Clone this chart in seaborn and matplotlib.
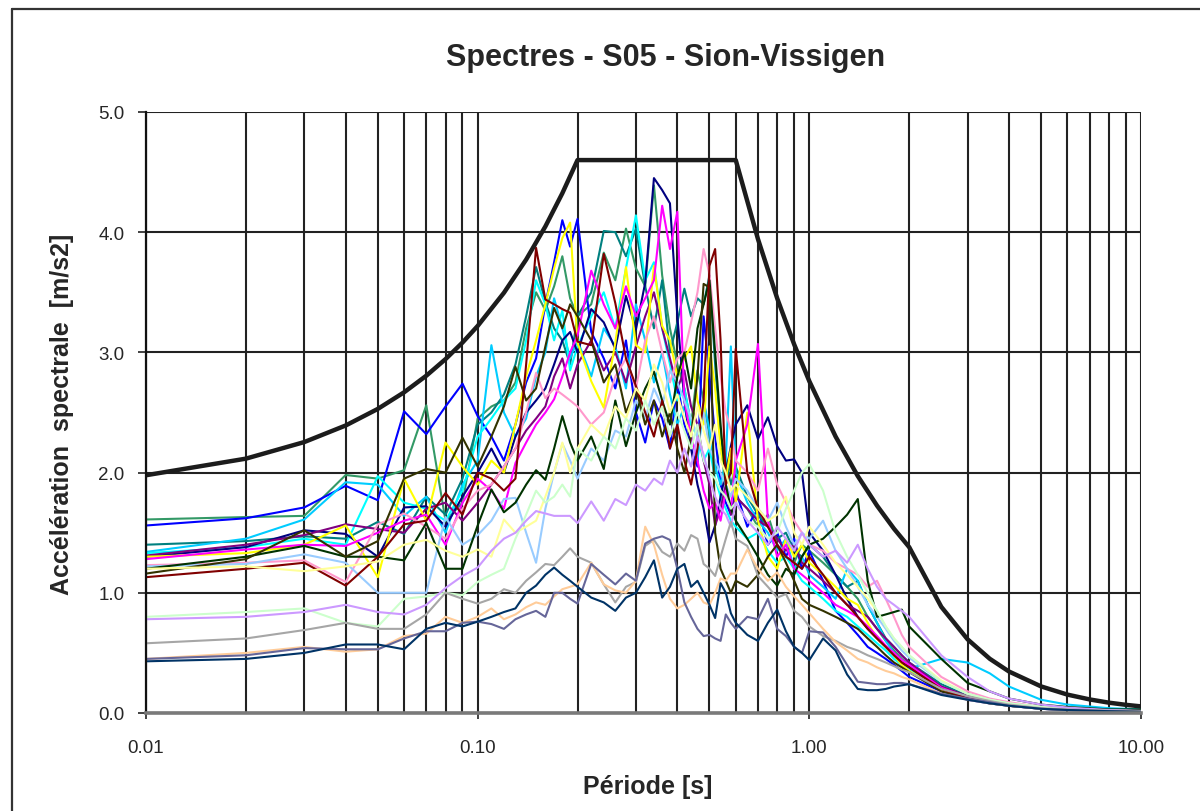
import pandas as pd
import seaborn as sns
import matplotlib
matplotlib.use("Agg")
import matplotlib.pyplot as plt
from matplotlib.lines import Line2D
from matplotlib.ticker import LogLocator, NullFormatter

# periods [s] at which the recorded spectra are read
periods = [0.01, 0.02, 0.03, 0.04, 0.05, 0.06, 0.07, 0.08, 0.09,
           0.10, 0.11, 0.12, 0.13, 0.14, 0.15, 0.16, 0.17, 0.18, 0.19, 0.20,
           0.22, 0.24, 0.26, 0.28, 0.30, 0.32, 0.34, 0.36, 0.38, 0.40,
           0.42, 0.44, 0.46, 0.48, 0.50, 0.52, 0.54, 0.56, 0.58, 0.60,
           0.65, 0.70, 0.75, 0.80, 0.85, 0.90, 0.95, 1.00,
           1.1, 1.2, 1.3, 1.4, 1.5, 1.6, 1.7, 1.8, 1.9, 2.0,
           2.5, 3.0, 3.5, 4.0, 5.0, 6.0, 8.0, 10.0]

sea_green = [1.61, 1.63, 1.64, 1.98, 1.95, 2.02, 2.56, 1.60, 1.75,
             2.45, 2.55, 2.60, 2.75, 3.20, 3.50, 3.35, 3.55, 3.80, 3.45, 3.30,
             3.40, 3.83, 3.60, 4.03, 3.70, 3.55, 4.39, 3.64, 3.20, 2.90,
             2.70, 2.40, 2.85, 2.60, 2.30, 2.00, 2.20, 1.90, 2.10, 1.80,
             1.70, 1.55, 1.65, 1.40, 1.30, 1.25, 1.40, 1.35,
             1.25, 1.15, 1.05, 0.95, 0.80, 0.70, 0.60, 0.52, 0.45, 0.40,
             0.22, 0.14, 0.10, 0.07, 0.04, 0.03, 0.02, 0.015]
blue = [1.56, 1.62, 1.71, 1.89, 1.77, 2.51, 2.32, 2.55, 2.74,
        2.47, 2.30, 2.10, 2.40, 2.75, 2.95, 3.40, 3.75, 4.10, 3.88, 4.11,
        3.17, 2.95, 2.70, 3.10, 2.50, 2.25, 2.60, 2.45, 2.20, 2.75,
        2.40, 2.20, 2.05, 3.30, 2.80, 2.30, 1.90, 1.75, 1.65, 1.85,
        1.55, 1.70, 1.40, 1.50, 1.30, 1.45, 1.20, 1.35,
        1.10, 0.85, 0.75, 0.65, 0.55, 0.50, 0.45, 0.40, 0.35, 0.30,
        0.18, 0.11, 0.08, 0.06, 0.035, 0.025, 0.015, 0.01]
teal = [1.40, 1.43, 1.47, 1.45, 1.59, 1.49, 1.80, 1.65, 1.95,
        2.40, 2.50, 2.65, 2.90, 3.30, 3.71, 3.42, 3.20, 3.10, 2.90, 3.30,
        3.50, 4.01, 4.00, 3.80, 4.03, 3.55, 3.20, 3.60, 3.00, 3.25,
        3.53, 3.30, 3.45, 3.40, 3.64, 2.90, 2.30, 2.10, 1.90, 2.05,
        1.80, 1.65, 1.55, 1.45, 1.50, 1.35, 1.30, 1.40,
        1.30, 1.15, 1.05, 1.10, 0.90, 0.75, 0.62, 0.55, 0.48, 0.42,
        0.24, 0.15, 0.11, 0.08, 0.05, 0.035, 0.02, 0.015]
sky_blue = [1.34, 1.45, 1.61, 1.92, 1.90, 1.64, 1.80, 1.50, 1.90,
            2.10, 3.06, 2.50, 2.30, 2.45, 2.80, 3.00, 3.45, 3.20, 2.95, 3.10,
            2.80, 3.20, 3.05, 2.70, 3.40, 3.10, 2.75, 3.00, 2.65, 2.40,
            2.55, 2.30, 2.10, 2.60, 2.35, 2.05, 1.90, 2.10, 3.05, 2.00,
            1.75, 1.60, 1.50, 1.35, 1.45, 1.20, 1.30, 1.15,
            1.05, 0.95, 1.20, 1.10, 0.90, 0.75, 0.60, 0.50, 0.42, 0.37,
            0.45, 0.42, 0.33, 0.22, 0.11, 0.07, 0.04, 0.03]
cyan = [1.33, 1.38, 1.45, 1.40, 1.97, 1.75, 1.70, 1.60, 1.85,
        2.30, 2.45, 2.60, 2.70, 3.10, 3.60, 3.40, 3.10, 3.35, 2.85, 3.05,
        3.30, 3.50, 3.20, 3.70, 4.14, 3.60, 3.75, 3.20, 2.90, 2.60,
        2.70, 2.40, 2.30, 2.10, 2.20, 1.95, 1.80, 1.70, 1.60, 1.55,
        1.45, 1.50, 1.35, 1.25, 1.30, 1.20, 1.10, 1.05,
        0.95, 0.85, 0.80, 0.72, 0.65, 0.58, 0.52, 0.45, 0.40, 0.36,
        0.20, 0.13, 0.09, 0.07, 0.04, 0.03, 0.02, 0.015]
navy = [1.30, 1.38, 1.52, 1.49, 1.30, 1.71, 1.72, 1.55, 1.80,
        2.00, 2.20, 2.00, 2.30, 2.50, 2.60, 2.70, 2.90, 3.10, 3.17, 3.00,
        3.36, 3.25, 3.03, 3.47, 3.19, 3.58, 4.45, 4.35, 4.24, 3.30,
        2.60, 2.20, 1.90, 1.70, 1.42, 1.56, 1.80, 2.00, 2.22, 2.40,
        2.56, 2.28, 2.46, 2.22, 2.10, 2.11, 2.00, 1.50,
        1.35, 1.15, 0.95, 0.80, 0.70, 0.62, 0.55, 0.48, 0.42, 0.38,
        0.20, 0.13, 0.09, 0.07, 0.04, 0.03, 0.02, 0.012]
purple = [1.31, 1.40, 1.48, 1.57, 1.53, 1.50, 1.70, 1.75, 1.60,
          1.75, 1.90, 2.05, 2.20, 2.35, 2.45, 2.55, 2.80, 2.95, 2.70, 2.90,
          3.10, 2.85, 3.00, 2.75, 3.05, 3.30, 3.50, 3.20, 2.95, 2.70,
          2.85, 2.55, 2.40, 2.10, 1.90, 1.56, 1.70, 1.90, 1.65, 1.80,
          1.70, 1.60, 1.55, 1.45, 1.35, 1.40, 1.25, 1.20,
          1.10, 1.00, 0.90, 0.85, 0.80, 0.70, 0.62, 0.55, 0.48, 0.42,
          0.22, 0.14, 0.10, 0.07, 0.04, 0.03, 0.02, 0.015]
yellow = [1.30, 1.33, 1.40, 1.56, 1.13, 1.95, 1.60, 2.25, 2.05,
          1.90, 2.10, 2.00, 2.40, 2.80, 3.10, 3.40, 3.70, 3.95, 4.08, 3.08,
          2.76, 2.54, 3.08, 3.71, 3.06, 3.00, 3.72, 3.22, 3.10, 2.80,
          2.95, 3.05, 2.60, 2.40, 3.05, 2.70, 2.20, 1.95, 2.20, 1.75,
          2.50, 1.60, 1.30, 1.20, 1.45, 1.30, 1.40, 1.25,
          1.15, 1.05, 0.95, 0.90, 0.75, 0.62, 0.55, 0.48, 0.40, 0.35,
          0.19, 0.12, 0.09, 0.06, 0.04, 0.03, 0.02, 0.012]
magenta = [1.28, 1.36, 1.40, 1.39, 1.50, 1.60, 1.65, 1.40, 1.75,
           1.95, 1.85, 1.70, 2.08, 2.25, 2.40, 2.50, 2.61, 2.80, 3.00, 3.14,
           3.68, 3.40, 3.20, 3.55, 3.30, 3.45, 3.60, 4.22, 3.86, 4.17,
           2.60, 2.30, 2.10, 1.85, 1.70, 1.75, 1.60, 1.85, 1.70, 2.10,
           2.40, 3.07, 1.60, 1.30, 1.40, 1.20, 1.15, 1.10,
           1.00, 0.90, 0.85, 0.80, 0.72, 0.64, 0.56, 0.50, 0.44, 0.40,
           0.21, 0.13, 0.09, 0.07, 0.04, 0.03, 0.02, 0.015]
pink = [1.23, 1.25, 1.27, 1.09, 1.57, 1.66, 1.55, 1.45, 1.70,
        1.85, 1.90, 2.05, 2.20, 2.50, 2.83, 2.62, 2.70, 2.65, 2.60, 2.55,
        2.40, 2.50, 2.80, 2.95, 2.70, 3.10, 3.30, 3.00, 2.75, 2.95,
        3.00, 3.25, 3.50, 3.86, 3.65, 3.20, 2.80, 2.50, 2.35, 2.10,
        2.00, 1.85, 2.20, 1.90, 1.75, 1.60, 1.50, 1.40,
        1.35, 1.25, 1.20, 1.15, 1.05, 1.10, 0.95, 0.80, 0.65, 0.55,
        0.30, 0.18, 0.12, 0.09, 0.05, 0.035, 0.02, 0.015]
light_blue = [1.22, 1.24, 1.32, 1.25, 1.00, 1.00, 1.00, 1.63, 1.40,
              1.48, 1.60, 1.78, 1.79, 1.50, 1.25, 1.70, 2.00, 2.24, 2.10, 1.95,
              2.20, 2.10, 2.35, 2.30, 2.60, 2.45, 2.70, 2.55, 2.85, 2.75,
              2.60, 2.45, 2.30, 2.50, 2.20, 2.10, 2.00, 1.90, 1.80, 1.95,
              1.85, 1.70, 1.60, 1.75, 1.55, 1.40, 1.50, 1.45,
              1.60, 1.35, 1.20, 1.05, 0.90, 0.80, 0.70, 0.60, 0.52, 0.46,
              0.26, 0.16, 0.11, 0.08, 0.05, 0.035, 0.02, 0.015]
dark_green = [1.20, 1.30, 1.39, 1.30, 1.30, 1.27, 1.58, 1.20, 1.20,
              1.56, 1.86, 1.67, 1.75, 1.90, 2.02, 1.94, 2.20, 2.47, 2.25, 2.10,
              2.30, 2.03, 2.60, 2.22, 2.50, 2.70, 2.84, 2.60, 2.40, 2.80,
              3.00, 2.70, 3.20, 3.40, 3.60, 3.00, 2.40, 1.90, 1.70, 1.60,
              1.45, 1.30, 1.15, 1.06, 1.20, 1.15, 1.30, 1.40,
              1.45, 1.55, 1.65, 1.78, 1.10, 0.80, 0.82, 0.84, 0.86, 0.72,
              0.45, 0.25, 0.18, 0.12, 0.07, 0.05, 0.03, 0.03]
olive = [1.16, 1.28, 1.52, 1.30, 1.43, 1.95, 2.03, 2.00, 2.29,
         2.05, 2.30, 2.55, 2.88, 2.60, 2.70, 3.05, 3.37, 3.20, 3.40, 3.30,
         3.10, 2.75, 2.90, 2.50, 2.70, 2.40, 2.60, 2.30, 2.50, 2.20,
         2.00, 2.30, 2.80, 3.57, 3.54, 1.50, 1.20, 1.10, 1.00, 1.10,
         1.05, 1.15, 1.30, 1.40, 1.25, 1.10, 0.95, 0.90,
         0.85, 0.80, 0.75, 0.70, 0.62, 0.55, 0.48, 0.42, 0.38, 0.34,
         0.18, 0.12, 0.08, 0.06, 0.035, 0.025, 0.015, 0.01]
dark_red = [1.13, 1.20, 1.25, 1.06, 1.30, 1.57, 1.60, 1.83, 1.65,
            2.00, 1.95, 1.85, 1.95, 2.90, 3.87, 3.44, 3.40, 3.36, 3.33, 3.09,
            3.06, 3.82, 3.41, 2.95, 2.72, 2.50, 2.30, 2.60, 2.20, 2.40,
            2.10, 1.90, 2.20, 2.60, 3.72, 3.86, 3.10, 1.90, 2.00, 3.03,
            2.00, 1.70, 1.55, 1.40, 1.30, 1.25, 1.20, 1.30,
            1.15, 1.00, 0.90, 0.80, 0.70, 0.62, 0.55, 0.48, 0.42, 0.38,
            0.20, 0.12, 0.09, 0.06, 0.04, 0.03, 0.02, 0.012]
light_yellow = [1.20, 1.22, 1.18, 1.22, 1.26, 1.40, 1.44, 1.35, 1.30,
                1.36, 1.30, 1.61, 1.50, 1.55, 1.60, 1.80, 2.00, 2.25, 2.00, 2.20,
                2.40, 2.30, 2.55, 2.45, 2.70, 2.60, 2.90, 2.75, 2.50, 2.65,
                2.45, 2.30, 2.55, 2.35, 2.20, 2.40, 2.10, 2.00, 1.85, 1.90,
                1.80, 1.70, 1.60, 1.65, 1.80, 1.50, 1.40, 1.55,
                1.40, 1.25, 1.15, 1.05, 0.95, 0.85, 0.72, 0.62, 0.55, 0.48,
                0.27, 0.16, 0.11, 0.08, 0.05, 0.035, 0.02, 0.015]
light_green = [0.80, 0.84, 0.87, 0.75, 0.72, 0.95, 0.97, 1.00, 0.98,
               1.09, 1.15, 1.20, 1.45, 1.65, 1.85, 1.75, 1.80, 1.90, 1.80, 2.20,
               2.10, 2.30, 2.20, 2.45, 2.35, 2.60, 2.40, 2.55, 2.30, 2.50,
               2.35, 2.20, 2.40, 2.10, 2.00, 1.95, 1.85, 1.80, 1.70, 1.75,
               1.60, 1.55, 1.45, 1.50, 1.70, 1.85, 2.00, 2.07,
               1.85, 1.50, 1.30, 1.15, 1.00, 0.85, 0.72, 0.62, 0.55, 0.48,
               0.26, 0.16, 0.11, 0.08, 0.05, 0.035, 0.02, 0.015]
lavender = [0.78, 0.80, 0.84, 0.90, 0.84, 0.82, 0.90, 1.04, 1.14,
            1.21, 1.35, 1.45, 1.50, 1.60, 1.68, 1.66, 1.64, 1.64, 1.64, 1.58,
            1.76, 1.60, 1.78, 1.73, 1.90, 1.85, 1.95, 1.90, 2.10, 2.00,
            2.20, 2.05, 2.30, 2.15, 1.95, 1.80, 1.70, 1.65, 1.55, 1.75,
            1.60, 1.50, 1.40, 1.55, 1.45, 1.35, 1.50, 1.40,
            1.30, 1.35, 1.25, 1.40, 1.20, 1.05, 0.95, 0.90, 0.85, 0.80,
            0.48, 0.30, 0.18, 0.12, 0.07, 0.045, 0.025, 0.018]
grey = [0.58, 0.62, 0.69, 0.75, 0.70, 0.70, 0.82, 1.00, 0.95,
        0.91, 0.95, 1.03, 1.00, 1.10, 1.17, 1.24, 1.23, 1.30, 1.37, 1.30,
        1.25, 1.07, 0.92, 1.05, 1.09, 1.39, 1.44, 1.34, 1.30, 1.41,
        1.35, 1.48, 1.45, 1.24, 1.20, 1.14, 1.30, 1.45, 1.59, 1.45,
        1.39, 1.14, 1.05, 0.96, 0.99, 0.85, 0.80, 0.72,
        0.64, 0.60, 0.55, 0.52, 0.48, 0.45, 0.42, 0.39, 0.36, 0.34,
        0.20, 0.14, 0.10, 0.07, 0.04, 0.03, 0.02, 0.015]
peach = [0.45, 0.50, 0.55, 0.51, 0.53, 0.64, 0.66, 0.80, 0.75,
         0.80, 0.87, 0.78, 0.82, 0.88, 0.92, 0.90, 0.97, 1.03, 1.05, 1.07,
         1.25, 1.07, 1.02, 1.00, 1.10, 1.55, 1.40, 1.15, 0.95, 0.87,
         0.90, 0.95, 1.00, 0.92, 0.90, 1.00, 1.12, 1.10, 1.16, 1.16,
         1.36, 1.20, 1.10, 1.17, 1.05, 0.97, 0.90, 0.83,
         0.70, 0.59, 0.52, 0.45, 0.42, 0.38, 0.35, 0.33, 0.30, 0.28,
         0.16, 0.11, 0.08, 0.06, 0.035, 0.025, 0.015, 0.01]
slate = [0.45, 0.48, 0.54, 0.53, 0.53, 0.62, 0.68, 0.68, 0.75,
         0.76, 0.74, 0.70, 0.78, 0.82, 0.85, 0.80, 1.00, 1.00, 0.95, 0.91,
         1.24, 1.15, 1.07, 1.16, 1.10, 1.41, 1.45, 1.47, 1.44, 1.20,
         0.92, 0.80, 0.70, 0.64, 0.65, 0.62, 0.60, 0.82, 0.75, 0.70,
         0.80, 0.78, 0.95, 0.70, 0.64, 0.55, 0.50, 0.68,
         0.67, 0.55, 0.40, 0.26, 0.25, 0.24, 0.24, 0.25, 0.25, 0.24,
         0.16, 0.12, 0.09, 0.06, 0.035, 0.025, 0.015, 0.01]
dark_blue = [0.43, 0.45, 0.50, 0.57, 0.57, 0.53, 0.70, 0.75, 0.72,
             0.76, 0.80, 0.84, 0.87, 1.00, 1.06, 1.15, 1.21, 1.15, 1.10, 1.05,
             0.96, 0.92, 0.85, 0.96, 1.00, 1.13, 1.27, 0.96, 1.05, 1.20,
             1.24, 1.05, 1.10, 1.00, 0.90, 0.79, 1.08, 1.00, 0.83, 0.75,
             0.65, 0.60, 0.75, 0.86, 0.68, 0.55, 0.50, 0.44,
             0.62, 0.52, 0.32, 0.20, 0.19, 0.19, 0.20, 0.22, 0.23, 0.24,
             0.15, 0.11, 0.08, 0.06, 0.035, 0.025, 0.015, 0.01]

# design (target) spectrum
design_T = [0.01, 0.02, 0.03, 0.04, 0.05, 0.06, 0.07, 0.08, 0.09, 0.10,
            0.12, 0.14, 0.16, 0.18, 0.20, 0.30, 0.40, 0.50, 0.60, 0.70,
            0.80, 0.90, 1.0, 1.2, 1.4, 1.6, 1.8, 2.0, 2.5, 3.0,
            3.5, 4.0, 5.0, 6.0, 7.0, 8.0, 9.0, 10.0]
design_Sa = [1.978, 2.116, 2.254, 2.392, 2.530, 2.668, 2.806, 2.944, 3.082, 3.220,
             3.496, 3.772, 4.048, 4.324, 4.600, 4.600, 4.600, 4.600, 4.600, 3.943,
             3.450, 3.067, 2.760, 2.300, 1.971, 1.725, 1.533, 1.380, 0.883, 0.613,
             0.451, 0.345, 0.221, 0.153, 0.113, 0.086, 0.068, 0.055]

records = [
    ("sea_green", "#339966", sea_green),
    ("blue", "#0000FF", blue),
    ("teal", "#008080", teal),
    ("sky_blue", "#00CCFF", sky_blue),
    ("cyan", "#00FFFF", cyan),
    ("navy", "#000080", navy),
    ("purple", "#800080", purple),
    ("yellow", "#FFFF00", yellow),
    ("magenta", "#FF00FF", magenta),
    ("pink", "#FF99CC", pink),
    ("light_blue", "#99CCFF", light_blue),
    ("dark_green", "#003300", dark_green),
    ("olive", "#333300", olive),
    ("dark_red", "#800000", dark_red),
    ("light_yellow", "#FFFF99", light_yellow),
    ("light_green", "#CCFFCC", light_green),
    ("lavender", "#CC99FF", lavender),
    ("grey", "#A6A6A6", grey),
    ("peach", "#FFCC99", peach),
    ("slate", "#666699", slate),
    ("dark_blue", "#003366", dark_blue),
]

frames = [pd.DataFrame({"T": periods, "Sa": vals, "record": name}) for name, _, vals in records]
df = pd.concat(frames, ignore_index=True)
palette = {name: col for name, col, _ in records}
df_design = pd.DataFrame({"T": design_T, "Sa": design_Sa})

sns.set_style("white")
plt.rcParams["font.family"] = ["Liberation Sans", "DejaVu Sans"]

fig = plt.figure(figsize=(12, 8.12), dpi=100)
ax = fig.add_axes([146 / 1200, 98 / 812, 995 / 1200, 601 / 812])

sns.lineplot(data=df, x="T", y="Sa", hue="record", palette=palette, estimator=None,
             sort=False, legend=False, linewidth=1.5, ax=ax)
sns.lineplot(data=df_design, x="T", y="Sa", color="#1c1c1c", linewidth=3.2,
             estimator=None, sort=False, ax=ax)

ax.set_xscale("log")
ax.set_xlim(0.01, 10)
ax.set_ylim(0, 5)
ax.set_xticks([0.01, 0.1, 1, 10])
ax.set_xticklabels(["0.01", "0.10", "1.00", "10.00"])
ax.xaxis.set_minor_locator(LogLocator(base=10, subs=range(2, 10)))
ax.xaxis.set_minor_formatter(NullFormatter())
ax.set_yticks([0, 1, 2, 3, 4, 5])
ax.set_yticklabels(["0.0", "1.0", "2.0", "3.0", "4.0", "5.0"])

ax.set_axisbelow(True)
ax.grid(True, which="both", axis="x", color="#222222", linewidth=1.5)
ax.grid(True, which="major", axis="y", color="#222222", linewidth=1.5)

for side in ["top", "right"]:
    ax.spines[side].set_visible(False)
ax.spines["left"].set_color("#111111")
ax.spines["left"].set_linewidth(1.6)
ax.spines["bottom"].set_color("#7a7a7a")
ax.spines["bottom"].set_linewidth(2.6)

ax.tick_params(axis="y", which="major", direction="out", length=5.5, width=1.2,
               color="#222222", pad=10, labelsize=13.5, left=True)
ax.tick_params(axis="x", which="major", direction="out", length=4, width=1.2,
               color="#222222", pad=15, labelsize=13.5, bottom=True)
ax.tick_params(axis="x", which="minor", length=0)
ax.set_xlabel("")
ax.set_ylabel("")

fig.text(666 / 1200, 1 - 58 / 812, "Spectres - S05 - Sion-Vissigen", ha="center",
         va="center", fontsize=22, fontweight="bold")
fig.text(648 / 1200, 1 - 787 / 812, "Période [s]", ha="center", va="center",
         fontsize=18, fontweight="bold")
fig.text(62 / 1200, 1 - 414 / 812, "Accélération  spectrale  [m/s2]", ha="center",
         va="center", rotation=90, fontsize=18, fontweight="bold")

# outer chart-area border (cropped on right and bottom)
fig.add_artist(Line2D([12 / 1200, 12 / 1200], [0, 1 - 10 / 812], color="#333333", lw=1.6))
fig.add_artist(Line2D([12 / 1200, 1], [1 - 10 / 812, 1 - 10 / 812], color="#333333", lw=1.6))

fig.savefig("out.png", dpi=100)
